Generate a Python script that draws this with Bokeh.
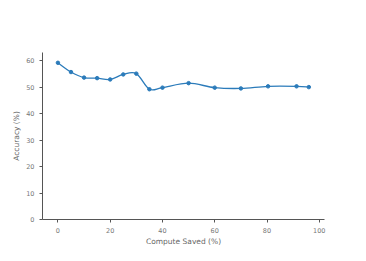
import numpy as np
from bokeh.plotting import figure
from bokeh.models import Range1d, FixedTicker
from bokeh.embed import file_html
from bokeh.resources import INLINE

compute_saved = [0, 5, 10, 15, 20, 25, 30, 35, 40, 50, 60, 70, 80.4, 91.3, 96]
accuracy = [59.3, 55.8, 53.7, 53.5, 53.0, 54.9, 55.2, 49.3, 49.9, 51.6, 49.9, 49.6, 50.4, 50.4, 50.1]
x_ticks = [0, 20, 40, 60, 80, 100]
y_ticks = [0, 10, 20, 30, 40, 50, 60]

color = "#2b7bba"
FONT = "DejaVu Sans"

p = figure(width=358, height=253, output_backend="svg", toolbar_location=None,
           x_range=Range1d(-5.9, 102), y_range=Range1d(0, 63.2),
           min_border_left=42, min_border_right=34, min_border_top=52, min_border_bottom=34)
p.outline_line_color = None
p.xgrid.grid_line_color = None
p.ygrid.grid_line_color = None

# Catmull-Rom spline as cubic Bezier segments
x = np.array(compute_saved, dtype=float)
y = np.array(accuracy, dtype=float)
xp = np.concatenate([[x[0]], x, [x[-1]]])
yp = np.concatenate([[y[0]], y, [y[-1]]])
x0, y0 = xp[1:-2], yp[1:-2]
x1, y1 = xp[2:-1], yp[2:-1]
cx0 = x0 + (xp[2:-1] - xp[:-3]) / 6
cy0 = y0 + (yp[2:-1] - yp[:-3]) / 6
cx1 = x1 - (xp[3:] - xp[1:-2]) / 6
cy1 = y1 - (yp[3:] - yp[1:-2]) / 6
p.bezier(x0=x0, y0=y0, x1=x1, y1=y1, cx0=cx0, cy0=cy0, cx1=cx1, cy1=cy1,
         line_color=color, line_width=1.3)
p.scatter(compute_saved, accuracy, size=3.5, color=color)

for ax in (p.xaxis[0], p.yaxis[0]):
    ax.axis_line_color = "#555555"
    ax.major_tick_line_color = "#555555"
    ax.minor_tick_line_color = None
    ax.major_tick_in = 0
    ax.major_tick_out = 3
    ax.major_label_text_font = FONT
    ax.major_label_text_font_size = "6.5px"
    ax.major_label_text_color = "#777777"
    ax.axis_label_text_font = FONT
    ax.axis_label_text_font_size = "7.5px"
    ax.axis_label_text_font_style = "normal"
    ax.axis_label_text_color = "#666666"

p.xaxis.ticker = FixedTicker(ticks=x_ticks)
p.yaxis.ticker = FixedTicker(ticks=y_ticks)
p.xaxis.axis_label = "Compute Saved (%)"
p.yaxis.axis_label = "Accuracy (%)"
p.xaxis.major_label_standoff = 5
p.yaxis.major_label_standoff = 5
p.xaxis.axis_label_standoff = 1
p.yaxis.axis_label_standoff = 2

open("out.html", "w").write(file_html(p, INLINE))
